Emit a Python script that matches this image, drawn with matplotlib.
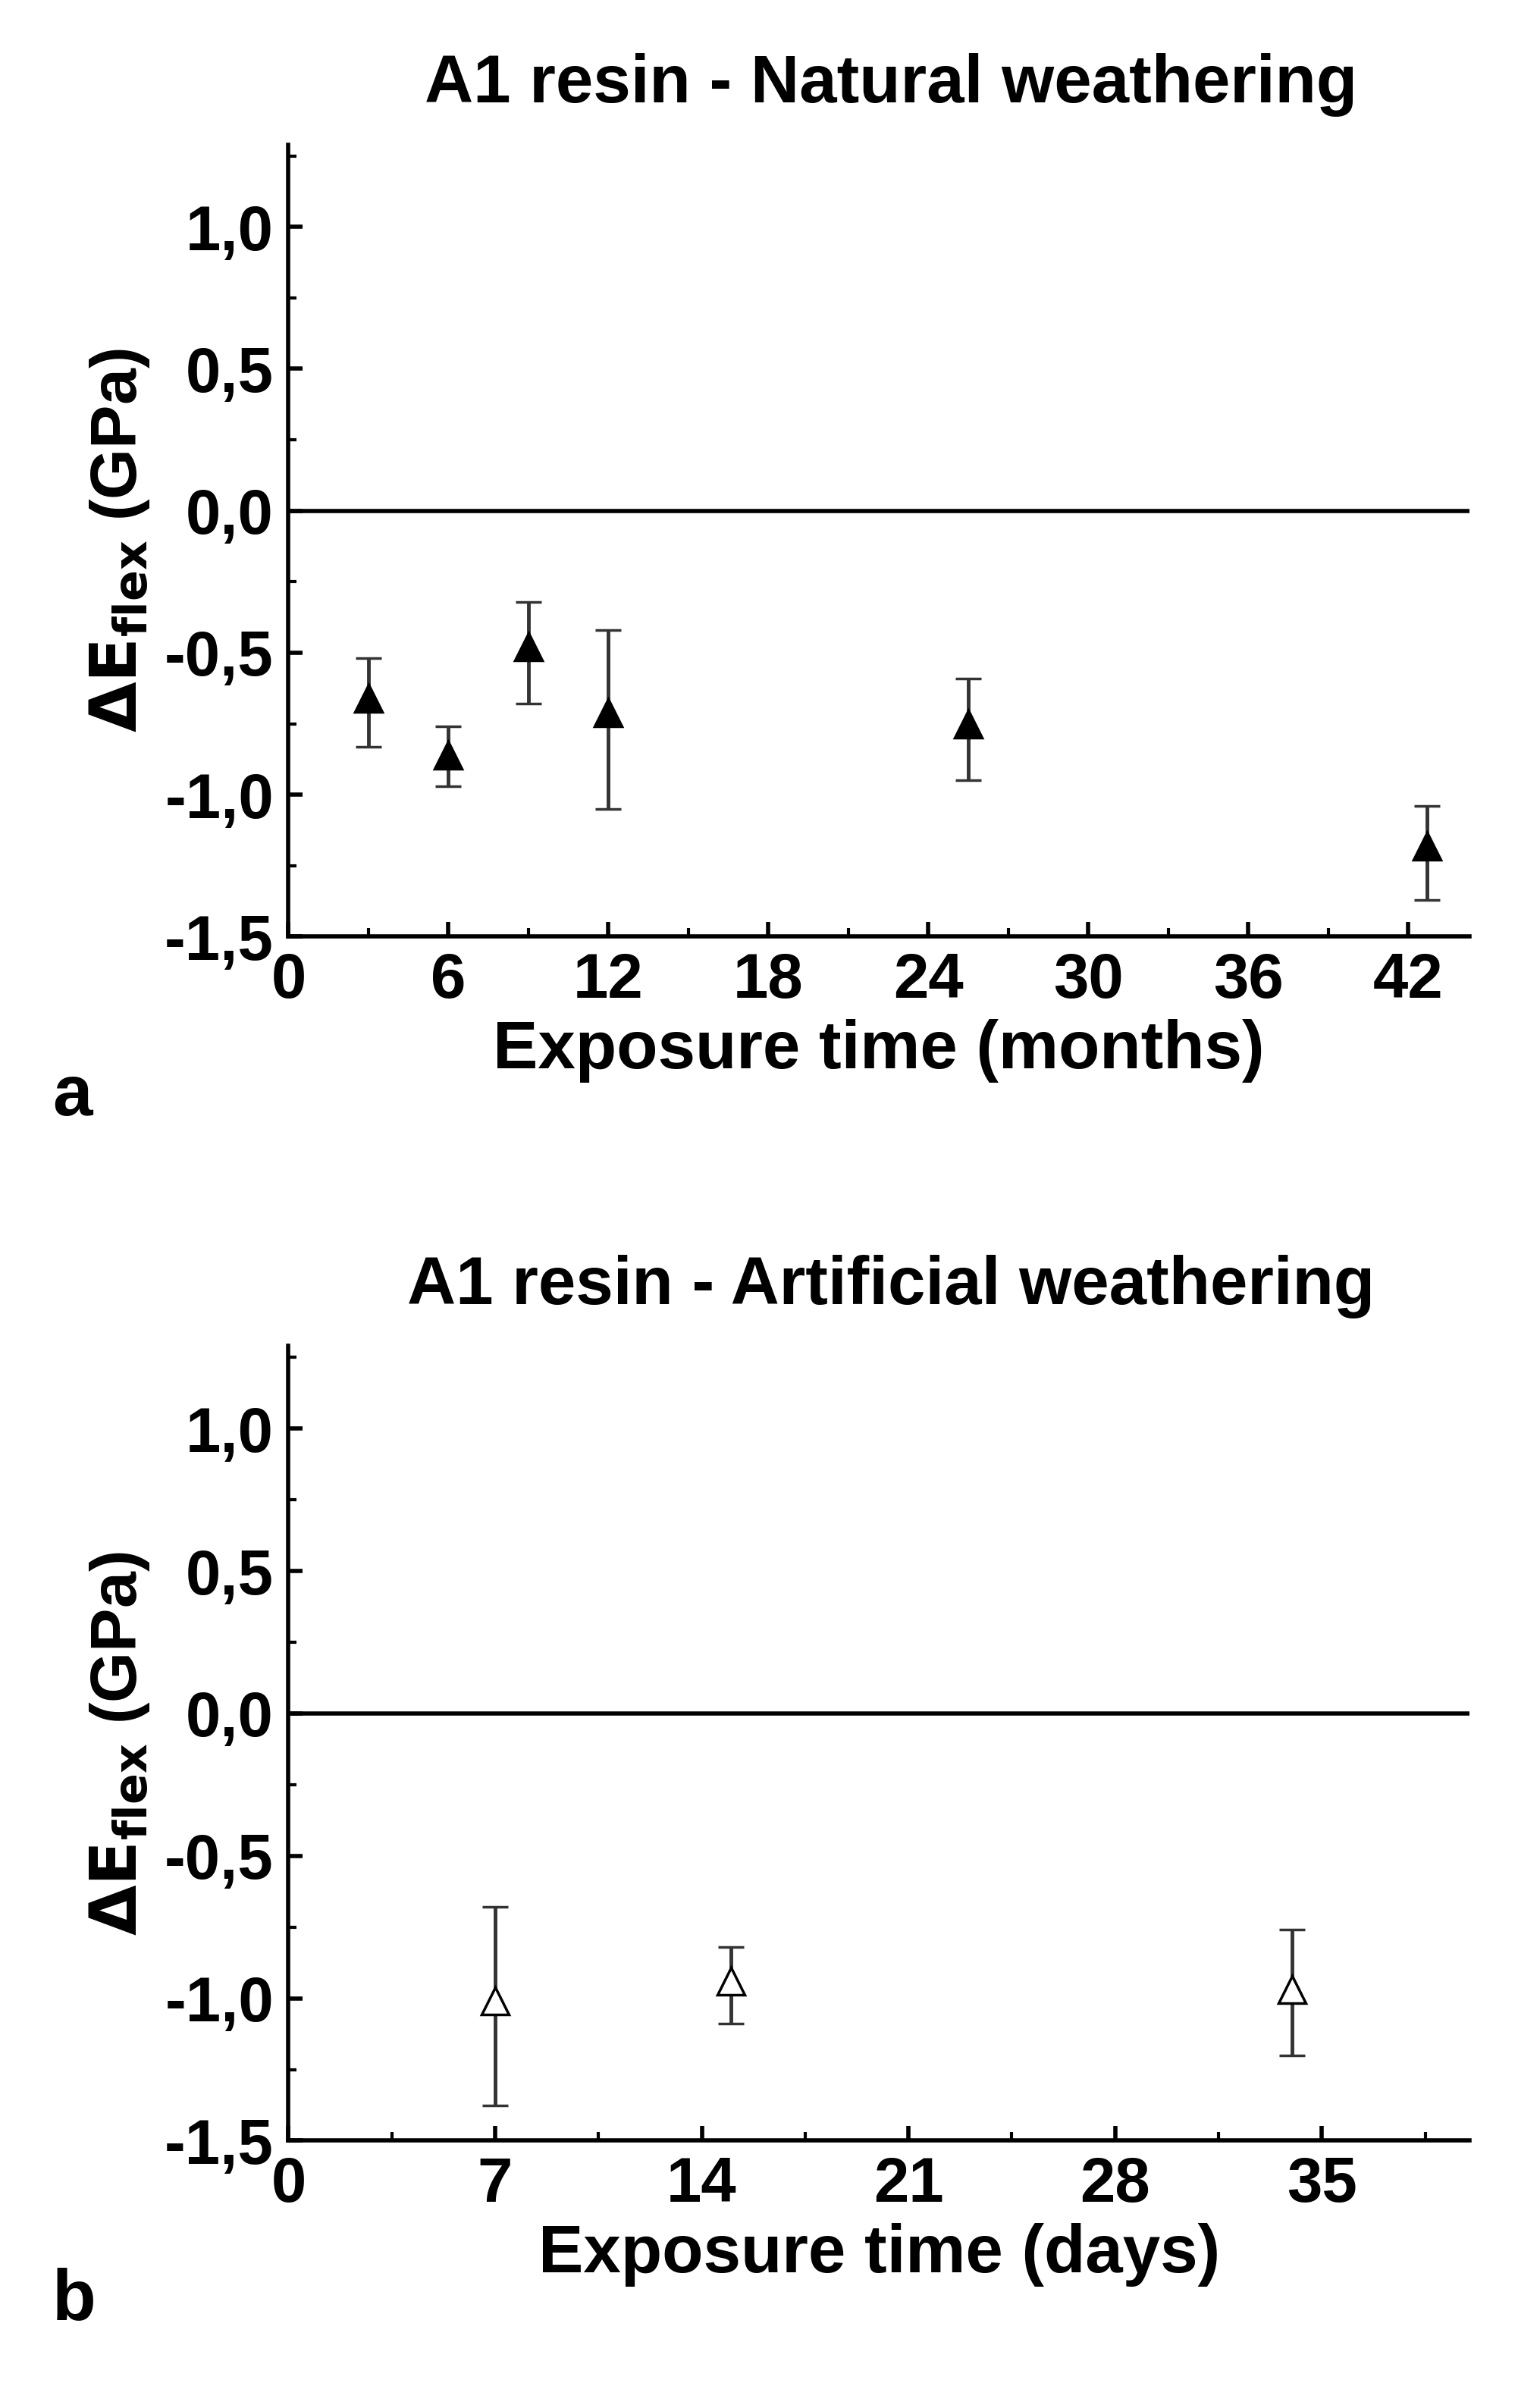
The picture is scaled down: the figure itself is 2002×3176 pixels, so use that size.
import matplotlib
matplotlib.use("Agg")
import matplotlib.pyplot as plt
from matplotlib.ticker import MultipleLocator

nat_x = [3, 6, 9, 12, 25.5, 42.7]
nat_y = [-0.66, -0.86, -0.48, -0.71, -0.75, -1.18]
nat_lo = [-0.83, -0.97, -0.68, -1.05, -0.95, -1.37]
nat_hi = [-0.52, -0.76, -0.32, -0.42, -0.59, -1.04]

art_x = [7, 15, 34]
art_y = [-1.01, -0.94, -0.97]
art_lo = [-1.375, -1.09, -1.20]
art_hi = [-0.68, -0.82, -0.76]

plt.rcParams['font.family'] = ['Liberation Sans', 'DejaVu Sans']
plt.rcParams['font.weight'] = 'bold'
fig = plt.figure(figsize=(20.02, 31.76), dpi=100)

def panel(rect, x, y, lo, hi, filled, xlim, xstep, xminor, title, xlabel, letter):
    ax = fig.add_axes(rect)
    yerr = [[yy - l for yy, l in zip(y, lo)], [h - yy for yy, h in zip(y, hi)]]
    ax.errorbar(x, y, yerr=yerr, fmt='^', ms=26, mfc='black' if filled else 'white',
                mec='black', mew=2.5, ecolor='#333333', elinewidth=3.5, capsize=12, capthick=3.5)
    ax.axhline(0, color='black', lw=4)
    ax.set_xlim(*xlim)
    ax.set_ylim(-1.5, 1.29)
    ax.xaxis.set_major_locator(MultipleLocator(xstep))
    ax.xaxis.set_minor_locator(MultipleLocator(xminor))
    ax.yaxis.set_major_locator(MultipleLocator(0.5))
    ax.yaxis.set_minor_locator(MultipleLocator(0.25))
    ax.yaxis.set_major_formatter(matplotlib.ticker.FuncFormatter(lambda v, p: f"{v:.1f}".replace('.', ',')))
    for s in ['top', 'right']:
        ax.spines[s].set_visible(False)
    for s in ['left', 'bottom']:
        ax.spines[s].set_linewidth(4)
    ax.tick_params(which='major', length=14, width=4, direction='in', labelsize=60, pad=14)
    ax.tick_params(which='minor', length=8, width=3, direction='in')
    for t in ax.get_xticklabels() + ax.get_yticklabels():
        t.set_fontweight('bold')
    ax.set_title(title, fontsize=64, fontweight='bold', pad=40, x=0.51)
    ax.set_xlabel(xlabel, fontsize=64, fontweight='bold', labelpad=8)
    ax.set_ylabel(r'$\mathbf{\Delta E_{flex}}$ (GPa)', fontsize=62, fontweight='bold', labelpad=12)
    ax.text(-0.2, -0.225, letter, transform=ax.transAxes, fontsize=68, fontweight='bold')
    return ax

panel([0.19, 0.611, 0.778, 0.329], nat_x, nat_y, nat_lo, nat_hi, True, (0, 44.3), 6, 3,
      'A1 resin - Natural weathering', 'Exposure time (months)', 'a')
panel([0.19, 0.111, 0.778, 0.330], art_x, art_y, art_lo, art_hi, False, (0, 40.0), 7, 3.5,
      'A1 resin - Artificial weathering', 'Exposure time (days)', 'b')

fig.savefig('out.png', dpi=100)
